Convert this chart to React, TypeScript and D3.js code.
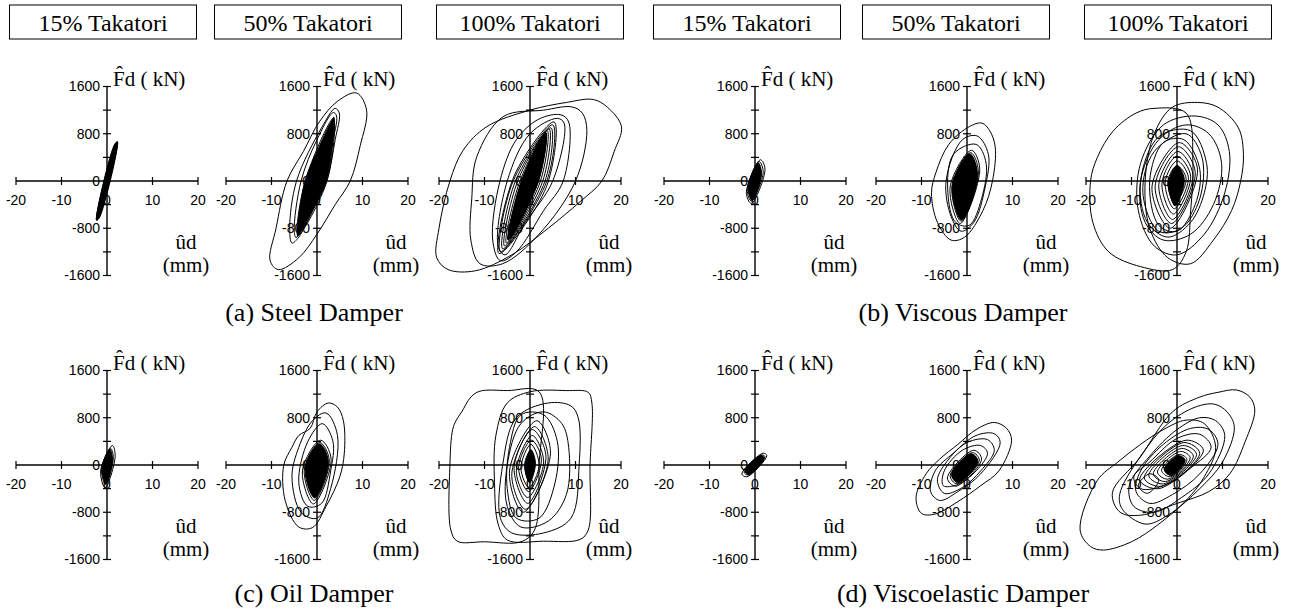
import React from 'react';
import * as d3 from 'd3';

type Pt = [number, number];

// header / caption text
const levels = ['15% Takatori', '50% Takatori', '100% Takatori', '15% Takatori', '50% Takatori', '100% Takatori'];
const captions = ['(a) Steel Damper', '(b) Viscous Damper', '(c) Oil Damper', '(d) Viscoelastic Damper'];
const fTitle = 'F\u0302d ( kN)';
const uTitle = 'u\u0302d';
const uUnit = '(mm)';
const uTicks = [-20, -10, 0, 10, 20];
const fTicks = [-1600, -1200, -800, -400, 0, 400, 800, 1200, 1600];
const fLabels = [-1600, -800, 0, 800, 1600];

// hysteresis loops, [ud (mm), Fd (kN)]
const steel15: Pt[][] = [
  [[2.3, 665], [1.9, 640], [-2.3, -660], [-1.9, -640]],
  [[2.0, 600], [1.6, 570], [-2.1, -630], [-1.7, -600]],
  [[1.6, 480], [1.2, 440], [-1.8, -560], [-1.4, -520]],
];
const steel50: Pt[][] = [
  [[10.9, 1200], [8.7, 1490], [4.5, 1350], [0.5, 1000], [-3, 500], [-6.6, 0], [-9, -800], [-10.3, -1350], [-8.5, -1500], [-4, -1300], [0, -900], [4, -400], [7.3, 0], [9.5, 600]],
  [[4.9, 1150], [4.0, 1230], [1, 900], [-4.5, 0], [-6, -800], [-5.5, -1050], [-4, -950], [-1, -500], [2.1, 0], [4, 700]],
  [[4.3, 1100], [3.6, 1160], [0, 700], [-3.5, 0], [-5, -850], [-4.6, -960], [-2.5, -600], [1.2, 0], [3.2, 600]],
  [[3.6, 1060], [-2.6, 0], [-4.2, -920], [2.2, 0]],
  [[3.3, 1000], [-2.2, 0], [-4.0, -880], [1.8, 0]],
  [[3.0, 950], [-1.8, -50], [-3.7, -850], [1.4, 50]],
  [[3.4, 900], [-1.4, 0], [-3.5, -800], [1.0, 0]],
  [[2.8, 880], [-1.0, 0], [-3.2, -780], [0.6, 0]],
  [[3.7, 1000], [-0.6, 0], [-3.9, -900], [0.2, 0]],
];
const steel100: Pt[][] = [
  [[20.1, 920], [17, 1250], [13.9, 1380], [8, 1330], [0, 1200], [-9.5, 920], [-14.7, 520], [-17.6, 0], [-20, -800], [-20.5, -1300], [-18, -1500], [-12, -1520], [-4, -1250], [4, -800], [11, -350], [15.8, 0], [18.5, 500]],
  [[12.5, 850], [11.5, 1150], [9.2, 1255], [3, 1200], [-5.9, 1090], [-11.7, 410], [-12.8, -300], [-13, -1000], [-11, -1400], [-6, -1400], [2, -900], [10, 0]],
  [[8.5, 1000], [6.8, 1120], [2, 1050], [-3, 700], [-6.6, 0], [-8.2, -1000], [-6.5, -1350], [-3, -1200], [3, -500], [7.3, 0]],
  [[7.5, 980], [6, 1060], [0, 800], [-5, 0], [-7, -1100], [-5.5, -1250], [-1, -700], [5, 0]],
  [[5.3, 1000], [-3.4, 100], [-6.8, -1230], [3.6, -100]],
  [[5, 950], [-3.7, 0], [-6.5, -1200], [3.7, 0]],
  [[4.6, 900], [-3.2, 0], [-6.0, -1150], [3.3, 0]],
  [[4.2, 880], [-2.7, 0], [-5.6, -1100], [2.8, 0]],
  [[3.8, 850], [-2.2, 0], [-5.2, -1050], [2.3, 0]],
  [[3.5, 820], [-1.7, 0], [-4.8, -1000], [1.8, 0]],
  [[3.2, 800], [-1.2, 0], [-4.5, -950], [1.3, 0]],
  [[2.8, 760], [-0.7, 0], [-4.0, -900], [0.8, 0]],
];
const viscous15: Pt[][] = [
  [[2.2, 200], [1.2, 360], [-1.9, -200], [-0.8, -380]],
  [[1.8, 150], [0.9, 330], [-1.7, -150], [-0.8, -340]],
  [[1.4, 120], [0.6, 280], [-1.4, -120], [-0.6, -300]],
  [[1.1, 100], [0.4, 240], [-1.1, -100], [-0.4, -250]],
];
const viscous50: Pt[][] = [
  [[6.2, 580], [5, 850], [3.3, 980], [0.5, 920], [-4, 620], [-6.8, 150], [-7.8, -200], [-6.5, -700], [-3.5, -1000], [-0.5, -950], [3.5, -500], [5.6, 0]],
  [[4.7, 450], [2.3, 760], [-1, 700], [-4.6, 0], [-3.5, -600], [-1.3, -850], [1.5, -700], [4, -100]],
  [[4.2, 300], [2, 620], [-3, 450], [-4.2, -200], [-2.5, -700], [0.5, -750], [3.2, -300]],
  [[2.8, 200], [1, 520], [-3.7, -100], [-1.5, -720]],
  [[2.5, 150], [0.8, 480], [-3.3, -80], [-1.3, -680]],
  [[2.2, 120], [0.6, 430], [-3.0, -50], [-1.1, -630]],
];
const viscous100: Pt[][] = [
  [[2, 1150], [-5, 1230], [-9, 1150], [-14, 850], [-17.5, 400], [-19, 0], [-18.5, -700], [-15, -1200], [-8, -1450], [-1, -1500], [2, -1200], [3, -500], [3.5, 300]],
  [[14.6, 450], [13.5, 900], [9, 1250], [4.5, 1330], [-1, 1250], [-5, 800], [-7, 0], [-6, -800], [-2, -1300], [3, -1400], [8, -1000], [12, -500], [14, 0]],
  [[11.5, 500], [9, 950], [4, 1100], [-3, 950], [-8, 300], [-8.5, -500], [-5, -1100], [0, -1250], [6, -900], [10.5, -200]],
  [[9.8, 300], [7, 800], [2, 950], [-4, 700], [-8, 0], [-7, -700], [-3, -1000], [3, -900], [8, -400]],
  [[6.5, 300], [3, 850], [-4, 750], [-8, 0], [-6.5, -700], [-2, -950], [3, -700], [6, -200]],
  [[5.5, 400], [2, 800], [-5, 500], [-7.5, -200], [-4, -850], [1, -800], [5, -300]],
  [[5, 200], [1.5, 700], [-3, 650], [-6, 0], [-4, -750], [0, -850], [4, -400]],
  [[4.5, 200], [0.5, 650], [-5.5, -100], [-1.5, -800]],
  [[4, 150], [0.3, 580], [-4.8, -80], [-1.2, -720]],
  [[3.5, 100], [0.2, 500], [-4, -60], [-1, -650]],
  [[3, 80], [0, 420], [-3.3, -40], [-0.8, -560]],
  [[2.5, 60], [0, 340], [-2.6, -20], [-0.6, -470]],
  [[2, 40], [0, 260], [-2, 0], [-0.5, -380]],
];
const oil15: Pt[][] = [
  [[1.8, 150], [1.2, 330], [-1.4, -100], [-0.4, -390]],
  [[1.4, 120], [0.8, 280], [-1.2, -80], [-0.3, -330]],
  [[1.1, 90], [0.5, 230], [-1.0, -60], [-0.2, -270]],
];
const oil50: Pt[][] = [
  [[5.8, 750], [4.5, 980], [2.5, 1050], [0, 900], [-1.5, 620], [-4, 500], [-5.5, 300], [-7.3, 0], [-7, -600], [-4, -1050], [-1, -1060], [2, -700], [5, -200], [6, 200]],
  [[4.5, 500], [2, 880], [-1, 750], [-4, 300], [-5.5, -200], [-3.5, -800], [0, -900], [3, -400]],
  [[3.5, 400], [1.2, 700], [-2, 400], [-4, -300], [-2, -700], [1, -650], [3, -100]],
  [[3.1, 100], [0.8, 420], [-3.2, -100], [-0.8, -660]],
  [[2.7, 80], [0.6, 380], [-2.8, -80], [-0.6, -600]],
];
const oil100: Pt[][] = [
  [[2, 1240], [-5, 1260], [-11, 1250], [-13, 1150], [-15, 900], [-16.2, 760], [-17, 600], [-17.6, 0], [-17.4, -1100], [-16, -1290], [-10, -1300], [-2, -1300], [1, -1100], [2, 0]],
  [[13.6, 1050], [12.8, 1230], [8, 1260], [0, 1240], [-5, 1050], [-7.5, 500], [-7.8, -300], [-7, -1000], [-5, -1270], [3, -1290], [11, -1260], [12.8, -1100], [13.2, 0]],
  [[10.6, 800], [9, 1000], [4, 1050], [-3, 800], [-6, 0], [-6.5, -900], [-4, -1150], [3, -1150], [9, -900], [10.8, 0]],
  [[8.5, 300], [7, 700], [3, 900], [-2, 700], [-5, 0], [-5, -700], [-2, -1050], [4, -950], [8, -500]],
  [[6, 400], [3, 850], [-2, 850], [-4.5, 300], [-5, -400], [-3, -900], [2, -900], [5.5, -300]],
  [[4.5, 200], [1.5, 750], [-4.5, -100], [-1.5, -800]],
  [[4, 100], [1, 650], [-4, -150], [-1, -750]],
  [[3.5, 150], [0.5, 600], [-3.5, -50], [-0.5, -650]],
  [[3, 50], [0.5, 500], [-3, -100], [-0.5, -550]],
  [[2.5, 100], [0.3, 420], [-2.5, -50], [-0.3, -450]],
  [[2, 0], [0.2, 350], [-2, -50], [-0.2, -380]],
];
const visco15: Pt[][] = [
  [[2.6, 160], [1.8, 200], [-2.9, -150], [-1.8, -200]],
  [[2.2, 140], [1.5, 170], [-2.4, -120], [-1.5, -170]],
];
const visco50: Pt[][] = [
  [[9.8, 420], [8.7, 620], [6, 720], [2, 600], [-2, 350], [-6, 100], [-9, -150], [-11.2, -550], [-10, -820], [-7, -830], [-2, -620], [3, -350], [7, -100]],
  [[7.3, 380], [6, 530], [2, 500], [-3, 200], [-7, -100], [-8, -450], [-6, -600], [-2, -450], [3, -150]],
  [[6, 250], [4.5, 430], [0, 380], [-4, 100], [-6.5, -250], [-5, -480], [-1, -380], [3, -100]],
  [[4.5, 200], [3, 330], [-1, 250], [-5, -100], [-5.2, -350], [-2, -330], [2, -100]],
  [[3.2, 100], [1.5, 250], [-4.3, -220], [-2.5, -360]],
  [[2.7, 80], [1.2, 210], [-3.7, -180], [-2.2, -320]],
];
const visco100: Pt[][] = [
  [[8.5, 300], [6, 700], [2, 760], [-3, 600], [-8, 350], [-13, 50], [-17.5, -260], [-21.3, -1100], [-19, -1380], [-16.2, -1440], [-10, -1300], [-4, -1000], [2, -600], [6, -200]],
  [[17.1, 930], [16, 1150], [13.1, 1270], [9, 1230], [5, 1150], [-1, 900], [-8.2, 120], [-14.2, -470], [-12.5, -800], [-8, -850], [0, -650], [7, -450], [11.6, -150], [15, 400]],
  [[12.6, 640], [11, 900], [8.2, 1030], [4, 980], [-2, 700], [-8, 150], [-12.6, -500], [-12, -750], [-7, -1000], [-2, -850], [5, -400], [10, 50]],
  [[10.5, 500], [8.5, 750], [5, 800], [0, 600], [-6, 150], [-10.5, -350], [-9.5, -700], [-5, -800], [1, -550], [7, -150]],
  [[9, 350], [7, 600], [3, 620], [-3, 350], [-8, -100], [-9, -450], [-6, -650], [-1, -500], [5, -150]],
  [[7.5, 300], [5, 520], [0, 450], [-6, 50], [-9.5, -200], [-8, -400], [-3, -350], [3, -50]],
  [[5.8, 250], [2, 420], [-8.2, -250], [-4, -400]],
  [[5, 200], [1.5, 380], [-7.2, -220], [-3.5, -360]],
  [[4.3, 180], [1.2, 330], [-6.2, -180], [-3, -320]],
  [[3.6, 150], [1, 280], [-5.2, -150], [-2.5, -280]],
  [[2.9, 120], [0.8, 230], [-4.3, -120], [-2, -240]],
  [[2.2, 90], [0.5, 180], [-3.4, -90], [-1.5, -200]],
  [[-4, -250], [-6, -150], [-8.5, -350], [-6.5, -480]],
];

// solid dark cores where the traces overlap
const steel15Core: Pt[][] = [[[2.3, 665], [1.6, 610], [-2.3, -665], [-1.6, -610]]];
const steel50Core: Pt[][] = [[[3.7, 1080], [2.6, 900], [-2.6, 0], [-4.2, -930], [-3.3, -800], [2.0, 0]]];
const steel100Core: Pt[][] = [[[3.5, 820], [-1.9, 0], [-4.8, -1000], [1.9, 0]]];
const viscous15Core: Pt[][] = [[[1.4, 130], [0.7, 310], [-1.5, -130], [-0.6, -330]]];
const viscous50Core: Pt[][] = [[[2.3, 100], [0.6, 460], [-3.2, -80], [-1.2, -660]]];
const viscous100Core: Pt[][] = [[[1.6, 30], [0, 260], [-1.9, -40], [-0.4, -420]]];
const oil15Core: Pt[][] = [[[1.2, 100], [0.6, 270], [-1.1, -60], [-0.2, -320]]];
const oil50Core: Pt[][] = [[[2.5, 60], [0.5, 360], [-2.6, -60], [-0.5, -560]]];
const oil100Core: Pt[][] = [[[1.2, 30], [0.2, 260], [-1.2, 0], [-0.1, -300]]];
const visco15Core: Pt[][] = [[[2.0, 120], [1.3, 160], [-2.2, -110], [-1.3, -160]]];
const visco50Core: Pt[][] = [[[2.4, 60], [1.0, 190], [-3.4, -160], [-2.0, -300]]];
const visco100Core: Pt[][] = [[[1.8, 80], [0.3, 160], [-2.8, -80], [-1.2, -180]]];

const panelRows = [
  [steel15, steel50, steel100, viscous15, viscous50, viscous100],
  [oil15, oil50, oil100, visco15, visco50, visco100],
];
const coreRows = [
  [steel15Core, steel50Core, steel100Core, viscous15Core, viscous50Core, viscous100Core],
  [oil15Core, oil50Core, oil100Core, visco15Core, visco50Core, visco100Core],
];

// layout
const W = 1291;
const H = 612;
const colX = [107, 317, 530, 755, 967, 1177];
const rowY = [181, 465];
const boxX = [103, 308, 530, 747, 956, 1178];
const capX = [314, 963];
const capY = [321, 602];
const halfU = 91;
const halfF = 94.5;
const serif = '"Liberation Serif", "Times New Roman", serif';
const sans = '"Liberation Sans", Arial, sans-serif';

function Panel({ cx, cy, loops, cores }: { cx: number; cy: number; loops: Pt[][]; cores: Pt[][] }) {
  const x = d3.scaleLinear().domain([-20, 20]).range([cx - halfU, cx + halfU]);
  const y = d3.scaleLinear().domain([-1600, 1600]).range([cy + halfF, cy - halfF]);
  const line = d3.line<Pt>()
    .x(d => x(d[0]))
    .y(d => y(d[1]))
    .curve(d3.curveCatmullRomClosed.alpha(0.5));

  return (
    <g>
      {cores.map((lp, i) => (
        <path key={'c' + i} d={line(lp) || ''} fill="#000" stroke="#000" strokeWidth={1} />
      ))}
      {loops.map((lp, i) => (
        <path key={i} d={line(lp) || ''} fill="none" stroke="#000" strokeWidth={1} />
      ))}
      {/* axes */}
      <line x1={x(-20)} x2={x(20)} y1={y(0)} y2={y(0)} stroke="#000" strokeWidth={1.4} />
      <line x1={x(0)} x2={x(0)} y1={y(1600)} y2={y(-1600)} stroke="#000" strokeWidth={1.4} />
      {uTicks.map(t => (
        <line key={t} x1={x(t)} x2={x(t)} y1={y(0) - 4} y2={y(0) + 4} stroke="#000" strokeWidth={1.2} />
      ))}
      {fTicks.map(t => (
        <line key={t} x1={x(0) - 4} x2={x(0) + 4} y1={y(t)} y2={y(t)} stroke="#000" strokeWidth={1.2} />
      ))}
      {uTicks.map(t => (
        <text key={t} x={x(t)} y={y(0) + 24} textAnchor="middle" fontFamily={sans} fontSize={14}>{t}</text>
      ))}
      {fLabels.map(t => (
        <text key={t} x={x(0) - 7} y={y(t)} dy="0.35em" textAnchor="end" fontFamily={sans} fontSize={14}>{t}</text>
      ))}
      {/* axis titles */}
      <text x={x(0) + 6} y={y(1600) - 1} fontFamily={serif} fontSize={21}>{fTitle}</text>
      <text x={x(0) + 79} y={y(0) + 68} textAnchor="middle" fontFamily={serif} fontSize={21}>{uTitle}</text>
      <text x={x(0) + 79} y={y(0) + 91} textAnchor="middle" fontFamily={serif} fontSize={21}>{uUnit}</text>
    </g>
  );
}

export default function App() {
  return (
    <svg width={W} height={H} style={{ position: 'absolute', left: 0, top: 0, background: '#fff' }}>
      <rect width={W} height={H} fill="#fff" />
      {levels.map((lv, i) => (
        <g key={i}>
          <rect x={boxX[i] - 93.5} y={5} width={187} height={34} fill="none" stroke="#000" strokeWidth={1} />
          <text x={boxX[i]} y={31} textAnchor="middle" fontFamily={serif} fontSize={24}>{lv}</text>
        </g>
      ))}
      {panelRows.map((row, r) =>
        row.map((loops, c) => (
          <Panel key={`${r}-${c}`} cx={colX[c]} cy={rowY[r]} loops={loops} cores={coreRows[r][c]} />
        ))
      )}
      {captions.map((cap, i) => (
        <text key={i} x={capX[i % 2]} y={capY[Math.floor(i / 2)]} textAnchor="middle" fontFamily={serif} fontSize={26}>{cap}</text>
      ))}
    </svg>
  );
}
